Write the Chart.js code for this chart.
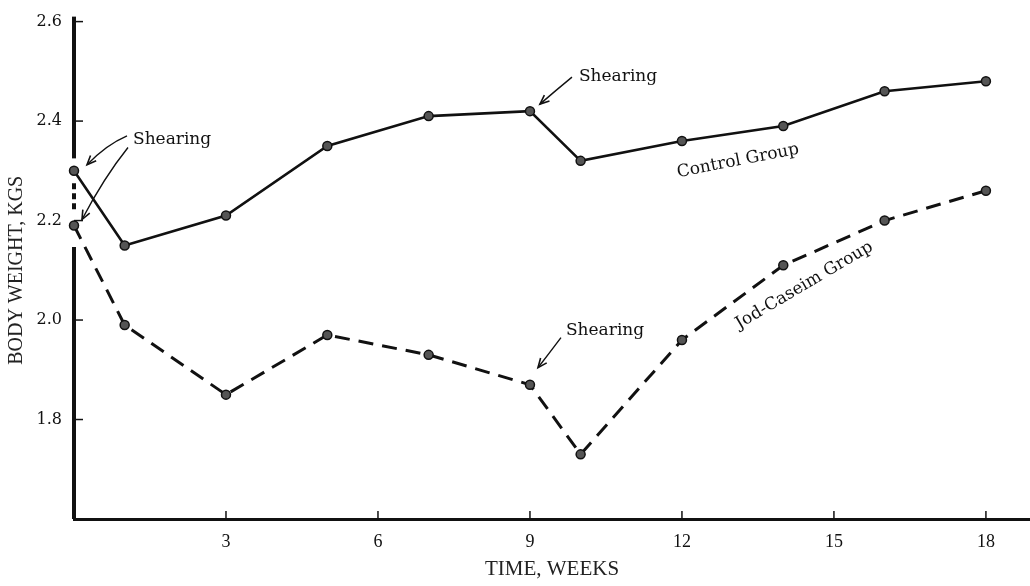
<!DOCTYPE html>
<html>
<head>
<meta charset="utf-8">
<script src="https://cdn.jsdelivr.net/npm/chart.js@4.4.1/dist/chart.umd.min.js"></script>
<style>
  html, body { margin: 0; padding: 0; background: #fff; }
  #wrap { width: 1030px; height: 586px; }
</style>
</head>
<body>
<div id="wrap"><canvas id="chart" width="1030" height="586"></canvas></div>
<script>
// data (body weight, kg, by week)
const weeks = [0, 1, 3, 5, 7, 9, 10, 12, 14, 16, 18];
const controlGroup = [2.30, 2.15, 2.21, 2.35, 2.41, 2.42, 2.32, 2.36, 2.39, 2.46, 2.48];
const jodCaseimGroup = [2.19, 1.99, 1.85, 1.97, 1.93, 1.87, 1.73, 1.96, 2.11, 2.20, 2.26];
const xTicks = [3, 6, 9, 12, 15, 18];
const yTicks = [1.8, 2.0, 2.2, 2.4, 2.6];

// y axis is broken around the two starting points
const yAxisPieces = [[2.61, 2.325, false], [2.275, 2.215, true], [2.147, 1.6, false]];

// "Shearing" notes, tied to a point of a series (offsets in px from that point)
const notes = [
  { series: 0, index: 0, text: "Shearing", tx: 59, ty: -31,
    arrows: [{ s: [53, -35], c: [32, -26], e: [13, -6] }] },
  { series: 1, index: 0, text: null,
    arrows: [{ s: [54, -78], c: [30, -48], e: [8, -6] }] },
  { series: 0, index: 5, text: "Shearing", tx: 49, ty: -35,
    arrows: [{ s: [42, -34], c: [25, -20], e: [10, -7] }] },
  { series: 1, index: 5, text: "Shearing", tx: 36, ty: -54,
    arrows: [{ s: [31, -47], c: [19, -31], e: [8, -17] }] }
];
const lineLabels = [
  { series: 0, index: 7, text: "Control Group", dx: 56, dy: 20, angle: -11 },
  { series: 1, index: 8, text: "Jod-Caseim Group", dx: 21, dy: 20, angle: -30.6 }
];

const toXY = arr => arr.map((v, i) => ({ x: weeks[i], y: v }));

const axisPlugin = {
  id: "axisPlugin",
  beforeDatasetsDraw(chart) {
    const ctx = chart.ctx;
    const xs = chart.scales.x, ys = chart.scales.y;
    const ax = xs.getPixelForValue(0);
    ctx.save();
    ctx.strokeStyle = "#111";
    ctx.lineWidth = 4;
    yAxisPieces.forEach(([a, b, dashed]) => {
      ctx.setLineDash(dashed ? [6, 4] : []);
      ctx.beginPath();
      ctx.moveTo(ax, ys.getPixelForValue(a));
      ctx.lineTo(ax, ys.getPixelForValue(b));
      ctx.stroke();
    });
    ctx.setLineDash([]);
    ctx.lineWidth = 1.5;
    yTicks.forEach(v => {
      const py = ys.getPixelForValue(v);
      ctx.beginPath();
      ctx.moveTo(ax, py);
      ctx.lineTo(ax + 9, py);
      ctx.stroke();
    });
    const by = ys.getPixelForValue(1.6);
    xTicks.forEach(v => {
      const px = xs.getPixelForValue(v);
      ctx.beginPath();
      ctx.moveTo(px, by);
      ctx.lineTo(px, by - 8);
      ctx.stroke();
    });
    ctx.restore();
  },
  afterDraw(chart) {
    const ctx = chart.ctx;
    ctx.save();
    ctx.fillStyle = "#111";
    ctx.strokeStyle = "#111";
    ctx.font = "17px 'DejaVu Serif'";
    ctx.textBaseline = "middle";
    notes.forEach(n => {
      const pt = chart.getDatasetMeta(n.series).data[n.index];
      if (n.text) {
        ctx.textAlign = "left";
        ctx.fillText(n.text, pt.x + n.tx, pt.y + n.ty);
      }
      n.arrows.forEach(a => {
        const sx = pt.x + a.s[0], sy = pt.y + a.s[1];
        const cx = pt.x + a.c[0], cy = pt.y + a.c[1];
        const ex = pt.x + a.e[0], ey = pt.y + a.e[1];
        ctx.lineWidth = 1.4;
        ctx.beginPath();
        ctx.moveTo(sx, sy);
        ctx.quadraticCurveTo(cx, cy, ex, ey);
        ctx.stroke();
        const ang = Math.atan2(ey - cy, ex - cx);
        ctx.lineWidth = 1.6;
        ctx.beginPath();
        ctx.moveTo(ex - 10 * Math.cos(ang - 0.4), ey - 10 * Math.sin(ang - 0.4));
        ctx.lineTo(ex, ey);
        ctx.lineTo(ex - 10 * Math.cos(ang + 0.4), ey - 10 * Math.sin(ang + 0.4));
        ctx.stroke();
      });
    });
    lineLabels.forEach(l => {
      const pt = chart.getDatasetMeta(l.series).data[l.index];
      ctx.save();
      ctx.translate(pt.x + l.dx, pt.y + l.dy);
      ctx.rotate(l.angle * Math.PI / 180);
      ctx.textAlign = "center";
      ctx.fillText(l.text, 0, 0);
      ctx.restore();
    });
    ctx.restore();
  }
};

new Chart(document.getElementById("chart").getContext("2d"), {
  type: "line",
  data: {
    datasets: [
      {
        label: "Control Group",
        data: toXY(controlGroup),
        borderColor: "#111",
        borderWidth: 2.6,
        pointRadius: 4.5,
        pointBackgroundColor: "#555",
        pointBorderColor: "#111",
        pointBorderWidth: 1.5,
        tension: 0,
        clip: false
      },
      {
        label: "Jod-Caseim Group",
        data: toXY(jodCaseimGroup),
        borderColor: "#111",
        borderWidth: 3,
        borderDash: [15, 9],
        pointRadius: 4.5,
        pointBackgroundColor: "#555",
        pointBorderColor: "#111",
        pointBorderWidth: 1.5,
        tension: 0,
        clip: false
      }
    ]
  },
  options: {
    responsive: false,
    animation: false,
    devicePixelRatio: 1,
    layout: { autoPadding: false, padding: { top: 16, left: 0, right: 0, bottom: 0 } },
    plugins: { legend: { display: false }, tooltip: { enabled: false } },
    scales: {
      x: {
        type: "linear",
        min: 0,
        max: 18.87,
        afterBuildTicks: s => { s.ticks = xTicks.map(v => ({ value: v })); },
        afterFit: s => { s.height = 67; },
        grid: { display: false, drawTicks: false },
        border: { display: true, color: "#111", width: 3 },
        ticks: { color: "#111", padding: 12, font: { family: "'Liberation Serif'", size: 18 } },
        title: {
          display: true, text: "TIME, WEEKS", color: "#222",
          font: { family: "'Liberation Serif'", size: 21 }, padding: { top: 0, bottom: 4 }
        }
      },
      y: {
        min: 1.6,
        max: 2.6,
        afterBuildTicks: s => { s.ticks = yTicks.map(v => ({ value: v })); },
        afterFit: s => { s.width = 74; },
        grid: { display: false, drawTicks: false },
        border: { display: false },
        ticks: {
          color: "#111", padding: 12,
          font: { family: "'DejaVu Serif'", size: 16 },
          callback: v => v.toFixed(1)
        },
        title: {
          display: true, text: "BODY WEIGHT, KGS", color: "#222",
          font: { family: "'Liberation Serif'", size: 20 }, padding: { top: 5, bottom: 0 }
        }
      }
    }
  },
  plugins: [axisPlugin]
});
</script>
</body>
</html>
